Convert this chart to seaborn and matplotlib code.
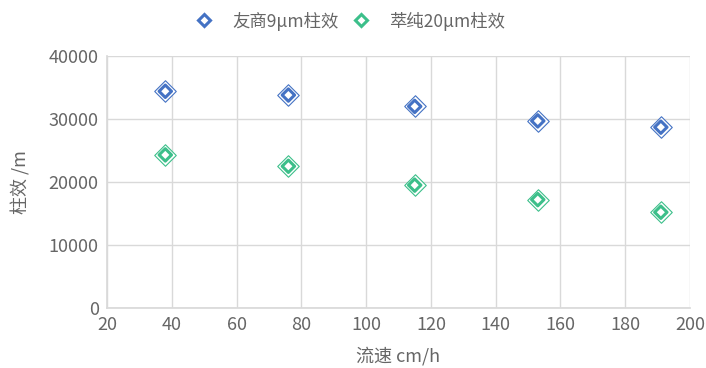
import matplotlib
matplotlib.use("Agg")
import matplotlib.pyplot as plt
import seaborn as sns
import pandas as pd
from matplotlib.lines import Line2D

flow = [38, 76, 115, 153, 191]
competitor = [34400, 33800, 32000, 29700, 28700]
cuichun = [24300, 22500, 19500, 17200, 15200]
series_names = ["友商9μm柱效", "萃纯20μm柱效"]
colors = ["#4472C4", "#3CBF8A"]

sns.set_theme(style="whitegrid")
plt.rcParams["font.family"] = ["Noto Sans CJK SC", "DejaVu Sans"]

df = pd.DataFrame({
    "flow": flow * 2,
    "value": competitor + cuichun,
    "series": [series_names[0]] * len(flow) + [series_names[1]] * len(flow),
})
palette = dict(zip(series_names, colors))

fig = plt.figure(figsize=(7.06, 3.68), dpi=100)
ax = fig.add_axes([107 / 706, 1 - 308 / 368, 583 / 706, 252 / 368])

# outer thin diamond outline
for name in series_names:
    sub = df[df.series == name]
    ax.scatter(sub.flow, sub.value, marker="D", s=120, facecolors="white",
               edgecolors=palette[name], linewidths=0.8, zorder=3)
# inner thick diamond ring with white centre
sns.scatterplot(data=df, x="flow", y="value", hue="series", palette=palette,
                marker="D", s=40, facecolor="white", linewidth=2.2,
                legend=False, ax=ax, zorder=4)
for coll in ax.collections[len(series_names):]:
    coll.set_edgecolors([palette[s] for s in df.series])
    coll.set_facecolor("white")

ax.set_xlim(20, 200)
ax.set_ylim(0, 40000)
ax.set_xticks(range(20, 201, 20))
ax.set_yticks(range(0, 40001, 10000))
ax.grid(True, color="#D9D9D9", linewidth=1)
for side, s in ax.spines.items():
    s.set_visible(side in ("left", "bottom"))
    s.set_color("#D9D9D9")
ax.tick_params(axis="both", colors="#666666", labelsize=13, length=0, pad=6)
ax.set_xlabel("流速 cm/h", fontsize=13, color="#666666", labelpad=9)
ax.set_ylabel("柱效 /m", fontsize=13, color="#666666", labelpad=13)

handles = [Line2D([], [], marker="D", linestyle="none", markersize=6.5,
                  markerfacecolor="white", markeredgecolor=c, markeredgewidth=2.2)
           for c in colors]
fig.legend(handles, series_names, loc="center", bbox_to_anchor=(346 / 706, 1 - 21 / 368),
           ncol=2, frameon=False, fontsize=12.5, labelcolor="#666666",
           handletextpad=0.6, columnspacing=0.3)

fig.savefig("out.png", dpi=100, facecolor="white")
